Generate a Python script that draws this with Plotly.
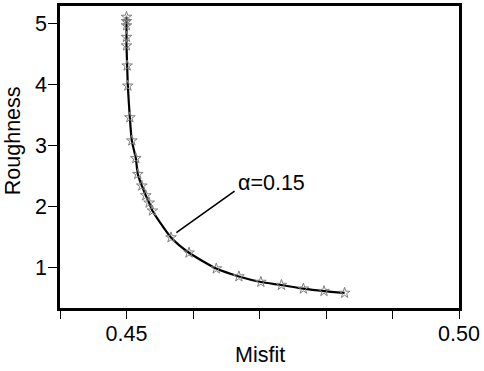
import plotly.graph_objects as go

misfit = [0.4500, 0.4500, 0.4500, 0.4500, 0.4500, 0.4501, 0.4502, 0.4505, 0.4508,
          0.4514, 0.4517, 0.4523, 0.4529, 0.4534, 0.4539, 0.4567, 0.4594, 0.4635,
          0.4669, 0.4702, 0.4733, 0.4766, 0.4797, 0.4828]
roughness = [5.11, 5.04, 4.97, 4.78, 4.64, 4.31, 3.98, 3.46, 3.08,
             2.79, 2.53, 2.34, 2.18, 2.06, 1.93, 1.49, 1.24, 0.98,
             0.85, 0.76, 0.71, 0.65, 0.61, 0.58]
alpha_label = "α=0.15"
alpha_index = 15
x_tickvals = [0.44, 0.45, 0.46, 0.47, 0.48, 0.49, 0.50]
x_ticktext = ["", "0.45", "", "", "", "", "0.50"]
y_tickvals = [1, 2, 3, 4, 5]

FONT = "Liberation Sans, Arial, sans-serif"
FS = 21.5

fig = go.Figure()
fig.add_trace(go.Scatter(
    x=misfit, y=roughness, mode="lines",
    line=dict(color="black", width=2.2, shape="spline", smoothing=0.6),
    hoverinfo="skip", showlegend=False))
fig.add_trace(go.Scatter(
    x=misfit, y=roughness, mode="markers",
    marker=dict(symbol="star-open", size=8, color="#808080", line=dict(width=1, color="#808080")),
    showlegend=False))

ax_pt, ay_pt = misfit[alpha_index], roughness[alpha_index]
fig.add_shape(type="line", xref="x", yref="y",
              x0=ax_pt + 0.0008, y0=ay_pt + 0.08, x1=0.46625, y1=2.25,
              line=dict(color="black", width=1.6))
fig.add_annotation(x=0.4664, y=2.39, xref="x", yref="y", text=alpha_label,
                   showarrow=False, xanchor="left", yanchor="middle",
                   font=dict(family=FONT, size=FS, color="black"))

fig.add_annotation(x=-0.119, y=0.554, xref="paper", yref="paper", text="Roughness",
                   textangle=-90, showarrow=False, xanchor="center", yanchor="middle",
                   font=dict(family=FONT, size=FS, color="black"))
fig.add_annotation(x=0.5, y=-0.154, xref="paper", yref="paper", text="Misfit",
                   showarrow=False, xanchor="center", yanchor="middle",
                   font=dict(family=FONT, size=FS, color="black"))

fig.update_layout(
    width=484, height=371,
    margin=dict(l=60, r=25, t=3, b=63),
    paper_bgcolor="white", plot_bgcolor="white",
    font=dict(family=FONT, size=FS, color="black"),
    xaxis=dict(range=[0.44, 0.50], tickvals=x_tickvals, ticktext=x_ticktext,
               ticks="outside", ticklen=8, tickwidth=1.2, tickcolor="black",
               showline=True, linecolor="black", linewidth=2.5, mirror=True,
               showgrid=False, zeroline=False, ticklabelstandoff=-4),
    yaxis=dict(range=[0.333, 5.29], tickvals=y_tickvals,
               ticks="outside", ticklen=9, tickwidth=1.2, tickcolor="black",
               showline=True, linecolor="black", linewidth=2.5, mirror=True,
               showgrid=False, zeroline=False, ticklabelstandoff=-3),
)

fig.write_html("out.html", config={"displayModeBar": False},
               post_script="document.body.style.margin='0';document.body.style.overflow='hidden';")
